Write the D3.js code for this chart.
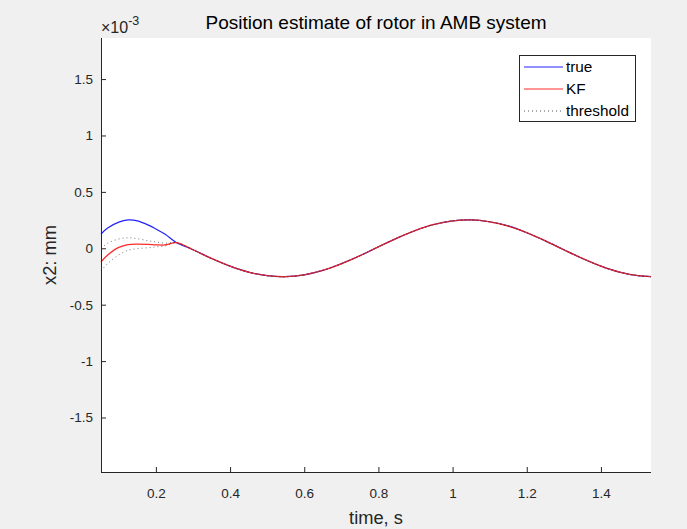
<!DOCTYPE html>
<html><head><meta charset="utf-8">
<script src="https://cdn.jsdelivr.net/npm/d3@7"></script>
<style>
html,body{margin:0;padding:0;background:#f0f0f0;}
svg{display:block;font-family:"Liberation Sans",Arial,Helvetica,sans-serif;}
</style></head>
<body><svg id="c" width="687" height="529"></svg>
<script>
// time samples (s)
const time = [0.052,0.07,0.10,0.125,0.15,0.18,0.20,0.225,0.255,0.30,0.35,0.40,0.45,0.50,0.55,0.60,0.65,0.70,0.75,0.80,0.85,0.90,0.95,1.00,1.05,1.10,1.15,1.20,1.25,1.30,1.35,1.40,1.45,1.50,1.535];
// values in units of 1e-3 mm
const trueVals = [0.127,0.18,0.232,0.251,0.243,0.205,0.171,0.124,0.052,-0.013,-0.090,-0.158,-0.211,-0.243,-0.252,-0.235,-0.196,-0.136,-0.066,0.013,0.090,0.158,0.211,0.243,0.252,0.235,0.198,0.138,0.066,-0.013,-0.090,-0.158,-0.211,-0.243,-0.252];
const kfVals   = [-0.121,-0.06,0.008,0.033,0.037,0.034,0.030,0.030,0.050,-0.013,-0.090,-0.158,-0.211,-0.243,-0.252,-0.235,-0.196,-0.138,-0.066,0.013,0.090,0.158,0.211,0.243,0.252,0.235,0.196,0.138,0.066,-0.013,-0.090,-0.158,-0.211,-0.243,-0.252];
const upperVals= [0.0,0.045,0.082,0.093,0.085,0.066,0.056,0.045,0.050,-0.013,-0.090,-0.158,-0.211,-0.243,-0.252,-0.235,-0.196,-0.138,-0.066,0.013,0.090,0.158,0.211,0.243,0.252,0.235,0.196,0.138,0.066,-0.013,-0.090,-0.158,-0.211,-0.243,-0.252];
const lowerVals= [-0.200,-0.135,-0.058,-0.018,-0.003,0.005,0.012,0.022,0.050,-0.013,-0.090,-0.158,-0.211,-0.243,-0.252,-0.235,-0.196,-0.138,-0.066,0.013,0.090,0.158,0.211,0.243,0.252,0.235,0.196,0.138,0.066,-0.013,-0.090,-0.158,-0.211,-0.243,-0.252];
const xTicks = [0.2,0.4,0.6,0.8,1.0,1.2,1.4];
const yTicks = [-1.5,-1,-0.5,0,0.5,1,1.5];
const legendLabels = ["true","KF","threshold"];
const titleText = "Position estimate of rotor in AMB system";
const xLabel = "time, s";
const yLabel = "x2: mm";

const L=101, R=651, T=38, B=472;
const svg = d3.select("#c");
const x = d3.scaleLinear().domain([0.052,1.535]).range([L,R]);
const y = d3.scaleLinear().domain([-1.983,1.864]).range([B,T]);
const ink = "#262626";

svg.append("rect").attr("x",L).attr("y",T).attr("width",R-L).attr("height",B-T).attr("fill","#fff");

const line = d3.line().x(d=>x(d[0])).y(d=>y(d[1])).curve(d3.curveCatmullRom.alpha(0.5));
const pts = v => time.map((t,i)=>[t,v[i]]);
const g = svg.append("g");
g.append("path").attr("d",line(pts(trueVals))).attr("fill","none").attr("stroke","#2020ff").attr("stroke-width",1.2);
g.append("path").attr("d",line(pts(kfVals))).attr("fill","none").attr("stroke","#ff2a2a").attr("stroke-width",1.3);
[upperVals,lowerVals].forEach(v=>{
  g.append("path").attr("d",line(pts(v))).attr("fill","none").attr("stroke","#222").attr("stroke-width",1).attr("stroke-dasharray","1,3").attr("opacity",0.6);
});

// axes
const xa = svg.append("g").attr("transform",`translate(0,${B})`)
  .call(d3.axisBottom(x).tickValues(xTicks).tickSize(-5).tickPadding(16).tickFormat(d3.format("")));
const ya = svg.append("g").attr("transform",`translate(${L},0)`)
  .call(d3.axisLeft(y).tickValues(yTicks).tickSize(-5).tickPadding(8).tickFormat(d=>d3.format("")(d).replace("\u2212","-")));
[xa,ya].forEach(a=>{
  a.select(".domain").attr("stroke",ink).attr("stroke-width",1);
  a.selectAll(".tick line").attr("stroke",ink);
  a.selectAll(".tick text").attr("fill",ink).style("font-size","13.5px");
});
xa.select(".domain").attr("d",`M${L},0.5H${R}`);
ya.select(".domain").attr("d",`M0.5,${B}V${T}`);

// exponent label
const ex = svg.append("text").attr("x",L).attr("y",33).attr("fill",ink).style("font-size","16px");
ex.append("tspan").text("\u00d710");
ex.append("tspan").attr("dy",-8).style("font-size","12.5px").text("-3");

svg.append("text").attr("x",(L+R)/2).attr("y",29).attr("text-anchor","middle").attr("fill","#000").style("font-size","19px").text(titleText);
svg.append("text").attr("x",(L+R)/2).attr("y",524).attr("text-anchor","middle").attr("fill",ink).style("font-size","18.3px").text(xLabel);
svg.append("text").attr("transform",`translate(56,${(T+B)/2}) rotate(-90)`).attr("text-anchor","middle").attr("fill",ink).style("font-size","18.3px").text(yLabel);

// legend
const lg = svg.append("g");
lg.append("rect").attr("x",519.5).attr("y",55.5).attr("width",116).attr("height",66).attr("fill","#fff").attr("stroke",ink).attr("stroke-width",1);
const colors = ["#2020ff","#ff2a2a","#222"];
legendLabels.forEach((lab,i)=>{
  const yy = 67 + i*22;
  const ln = lg.append("line").attr("x1",524).attr("x2",563).attr("y1",yy).attr("y2",yy).attr("stroke",colors[i]).attr("stroke-width",1);
  if(i===2) ln.attr("stroke-dasharray","1,3").attr("opacity",0.75);
  lg.append("text").attr("x",566).attr("y",yy+5).attr("fill","#000").style("font-size","15.3px").text(lab);
});
</script></body></html>
